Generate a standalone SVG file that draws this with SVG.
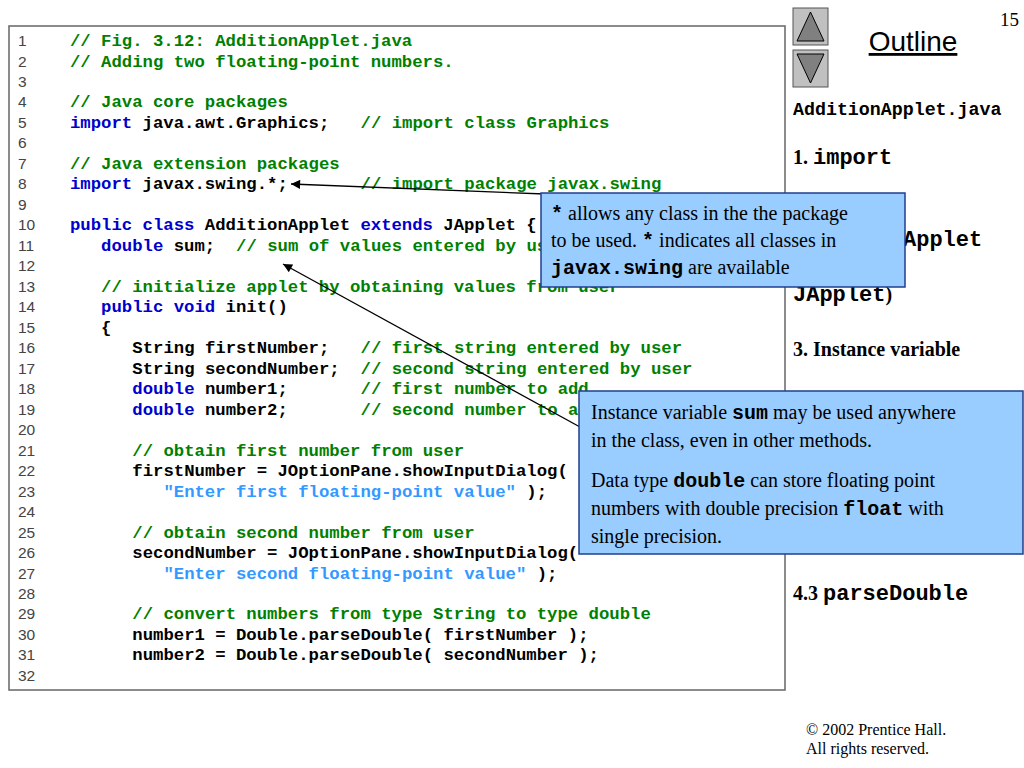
<svg xmlns="http://www.w3.org/2000/svg" width="1024" height="768" viewBox="0 0 1024 768">
<style>
.n{font-family:"Liberation Sans",Arial,sans-serif;font-size:15.5px;fill:#444}
.c{font-family:"Liberation Mono","Courier New",monospace;font-size:17.3px;font-weight:bold;fill:#000}
.k{fill:#0000cc}.g{fill:#008000}.s{fill:#3399ff}
.t{font-family:"Liberation Serif","Times New Roman",serif;font-size:20px;fill:#000}
.m{font-family:"Liberation Mono","Courier New",monospace;font-weight:bold}
.r{font-size:22px}
.box{fill:#99ccff;stroke:#1f3f8f;stroke-width:1.5}
.btn{fill:#c0c0c0;stroke:#555;stroke-width:1}
.tri{fill:#808080;stroke:#000;stroke-width:1}
</style>
<defs><marker id="ah" viewBox="0 0 10 10" refX="10" refY="5" markerWidth="9" markerHeight="7" orient="auto"><path d="M0,0 L10,5 L0,10 z" fill="#000"/></marker></defs>
<rect width="1024" height="768" fill="#fff"/>
<rect x="9" y="26" width="776" height="664" fill="#fff" stroke="#666" stroke-width="1.5"/>
<g class="n">
<text x="18" y="46">1</text><text x="18" y="66.5">2</text><text x="18" y="87">3</text><text x="18" y="107.4">4</text><text x="18" y="127.9">5</text><text x="18" y="148.4">6</text><text x="18" y="168.9">7</text><text x="18" y="189.4">8</text><text x="18" y="209.8">9</text><text x="18" y="230.3">10</text><text x="18" y="250.8">11</text><text x="18" y="271.3">12</text><text x="18" y="291.8">13</text><text x="18" y="312.2">14</text><text x="18" y="332.7">15</text><text x="18" y="353.2">16</text><text x="18" y="373.7">17</text><text x="18" y="394.2">18</text><text x="18" y="414.6">19</text><text x="18" y="435.1">20</text><text x="18" y="455.6">21</text><text x="18" y="476.1">22</text><text x="18" y="496.6">23</text><text x="18" y="517">24</text><text x="18" y="537.5">25</text><text x="18" y="558">26</text><text x="18" y="578.5">27</text><text x="18" y="599">28</text><text x="18" y="619.4">29</text><text x="18" y="639.9">30</text><text x="18" y="660.4">31</text><text x="18" y="680.9">32</text>
</g>
<g class="c">
<text x="70" y="46" class="g">// Fig. 3.12: AdditionApplet.java</text>
<text x="70" y="66.5" class="g">// Adding two floating-point numbers.</text>
<text x="70" y="107.4" class="g">// Java core packages</text>
<text x="70" y="127.9"><tspan class="k">import</tspan> java.awt.Graphics;<tspan x="360.6" class="g">// import class Graphics</tspan></text>
<text x="70" y="168.9" class="g">// Java extension packages</text>
<text x="70" y="189.4"><tspan class="k">import</tspan> javax.swing.*;<tspan x="360.6" class="g">// import package javax.swing</tspan></text>
<text x="70" y="230.3"><tspan class="k">public class</tspan> AdditionApplet <tspan class="k">extends</tspan> JApplet {</text>
<text x="101.1" y="250.8"><tspan class="k">double</tspan> sum;<tspan x="236.1" class="g">// sum of values entered by user</tspan></text>
<text x="101.1" y="291.8" class="g">// initialize applet by obtaining values from user</text>
<text x="101.1" y="312.2"><tspan class="k">public void</tspan> init()</text>
<text x="101.1" y="332.7">{</text>
<text x="132.3" y="353.2">String firstNumber;<tspan x="360.6" class="g">// first string entered by user</tspan></text>
<text x="132.3" y="373.7">String secondNumber;<tspan x="360.6" class="g">// second string entered by user</tspan></text>
<text x="132.3" y="394.2"><tspan class="k">double</tspan> number1;<tspan x="360.6" class="g">// first number to add</tspan></text>
<text x="132.3" y="414.6"><tspan class="k">double</tspan> number2;<tspan x="360.6" class="g">// second number to add</tspan></text>
<text x="132.3" y="455.6" class="g">// obtain first number from user</text>
<text x="132.3" y="476.1">firstNumber = JOptionPane.showInputDialog(</text>
<text x="163.4" y="496.6"><tspan class="s">"Enter first floating-point value"</tspan> );</text>
<text x="132.3" y="537.5" class="g">// obtain second number from user</text>
<text x="132.3" y="558">secondNumber = JOptionPane.showInputDialog(</text>
<text x="163.4" y="578.5"><tspan class="s">"Enter second floating-point value"</tspan> );</text>
<text x="132.3" y="619.4" class="g">// convert numbers from type String to type double</text>
<text x="132.3" y="639.9">number1 = Double.parseDouble( firstNumber );</text>
<text x="132.3" y="660.4">number2 = Double.parseDouble( secondNumber );</text>
</g>
<g id="nav">
<rect class="btn" x="793" y="8" width="35" height="37"/><path class="tri" d="M797,41 L810.5,12 L824,41 z"/>
<rect class="btn" x="793" y="50" width="35" height="37"/><path class="tri" d="M797,54 L810.5,83 L824,54 z"/>
</g>
<text x="913" y="51" text-anchor="middle" font-family="Liberation Sans,Arial,sans-serif" font-size="28" text-decoration="underline">Outline</text>
<text x="1000" y="26" font-family="Liberation Serif,serif" font-size="19">15</text>
<g class="t" font-weight="bold">
<text x="793" y="115" class="m" font-size="18.3">AdditionApplet.java</text>
<text x="793" y="164">1. <tspan class="m r">import</tspan></text>
<text x="903" y="246" class="m r">Applet</text>
<text x="793" y="301"><tspan class="m r">JApplet</tspan>)</text>
<text x="793" y="356">3. Instance variable</text>
<text x="793" y="600">4.3 <tspan class="m r">parseDouble</tspan></text>
</g>
<g id="connectors" stroke="#000" stroke-width="1.3">
<line x1="545" y1="194" x2="291" y2="184" marker-end="url(#ah)"/>
<line x1="580" y1="427" x2="283" y2="264" marker-end="url(#ah)"/>
</g>
<g id="callout1">
<rect class="box" x="541" y="193" width="364" height="94"/>
<text class="t" x="551" y="220"><tspan class="m">*</tspan> allows any class in the the package</text>
<text class="t" x="551" y="247">to be used. <tspan class="m">*</tspan> indicates all classes in</text>
<text class="t" x="551" y="274"><tspan class="m">javax.swing</tspan> are available</text>
</g>
<g id="callout2">
<rect class="box" x="579" y="391" width="444" height="163"/>
<text class="t" x="591" y="419">Instance variable <tspan class="m">sum</tspan> may be used anywhere</text>
<text class="t" x="591" y="447">in the class, even in other methods.</text>
<text class="t" x="591" y="487">Data type <tspan class="m">double</tspan> can store floating point</text>
<text class="t" x="591" y="515">numbers with double precision <tspan class="m">float</tspan> with</text>
<text class="t" x="591" y="543">single precision.</text>
</g>
<text x="806" y="735" font-family="Liberation Serif,serif" font-size="16">© 2002 Prentice Hall.</text>
<text x="806" y="754" font-family="Liberation Serif,serif" font-size="16">All rights reserved.</text>
</svg>
